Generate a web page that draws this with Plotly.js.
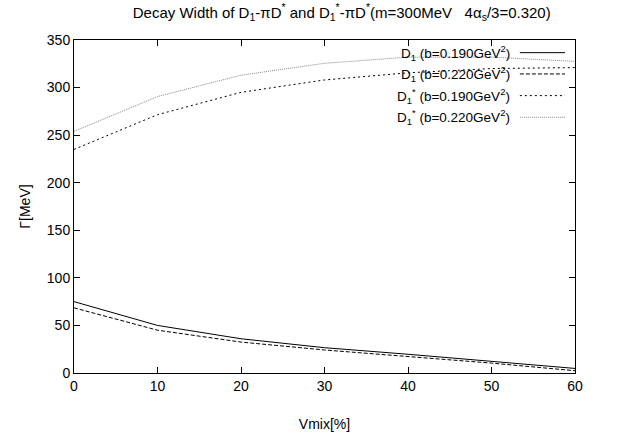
<!DOCTYPE html>
<html>
<head>
<meta charset="utf-8">
<script src="https://cdn.plot.ly/plotly-3.0.1.min.js"></script>
<style>html,body{margin:0;padding:0;background:#fff;}#chart{width:627px;height:446px;}</style>
</head>
<body>
<div id="chart"></div>
<script>
const vmix = [0, 10, 20, 30, 40, 50, 60];
const d1_b190 = [75, 50, 36, 26.6, 19.7, 12.5, 4.8];
const d1_b220 = [68.5, 45, 32.5, 24.2, 17.3, 10.4, 2.4];
const d1s_b190 = [235, 271.5, 295, 308, 315.5, 320, 321];
const d1s_b220 = [254, 290.5, 313, 325.5, 332, 332, 327.5];
const seriesNames = [
  'D<sub>1</sub> (b=0.190GeV<sup>2</sup>)',
  'D<sub>1</sub> (b=0.220GeV<sup>2</sup>)',
  'D<sub>1</sub><sup>*</sup> (b=0.190GeV<sup>2</sup>)',
  'D<sub>1</sub><sup>*</sup> (b=0.220GeV<sup>2</sup>)'
];
const xTicks = [0, 10, 20, 30, 40, 50, 60];
const yTicks = [0, 50, 100, 150, 200, 250, 300, 350];

const styles = [
  {color: '#000', width: 1, dash: 'solid'},
  {color: '#000', width: 1, dash: '4px,2px'},
  {color: '#000', width: 1, dash: '2px,3px'},
  {color: '#888', width: 1, dash: '1px,1px'}
];
const ys = [d1_b190, d1_b220, d1s_b190, d1s_b220];

const traces = ys.map((y, i) => ({
  x: vmix, y: y, type: 'scatter', mode: 'lines',
  name: seriesNames[i], line: styles[i], showlegend: false
}));

const font = {family: 'Liberation Sans, Arial, sans-serif', size: 14, color: '#000'};
const legFont = {family: 'Liberation Sans, Arial, sans-serif', size: 13.5, color: '#000'};
const rowsY = [0.962, 0.898, 0.833, 0.768];
const annotations = seriesNames.map((t, i) => ({
  xref: 'paper', yref: 'paper', x: 0.875, y: rowsY[i],
  xanchor: 'right', yanchor: 'middle', text: t, showarrow: false,
  font: legFont
}));
const shapes = styles.map((s, i) => ({
  type: 'line', xref: 'paper', yref: 'paper',
  x0: 0.89, x1: 0.98, y0: rowsY[i], y1: rowsY[i],
  line: s
}));

const layout = {
  width: 627, height: 446,
  margin: {l: 74, r: 52, t: 40, b: 73},
  paper_bgcolor: '#fff', plot_bgcolor: '#fff',
  font: font,
  showlegend: false,
  title: {
    text: 'Decay Width of D<sub>1</sub>-πD<sup>*</sup> and D<sub>1</sub><sup>*</sup>-πD<sup>*</sup>(m=300MeV&nbsp;&nbsp;&nbsp;4α<sub>s</sub>/3=0.320)',
    font: {family: 'Liberation Sans, Arial, sans-serif', size: 15, color: '#000'},
    x: 0.545, xanchor: 'center', y: 0.972, yanchor: 'middle'
  },
  xaxis: {
    range: [0, 60], tickvals: xTicks, ticktext: xTicks.map(String),
    ticks: 'inside', ticklen: 6, tickcolor: '#000', mirror: 'allticks',
    showline: true, linecolor: '#000', linewidth: 1, showgrid: false, zeroline: false,
    title: {text: 'Vmix[%]', font: font, standoff: 26},
    tickfont: font
  },
  yaxis: {
    range: [0, 350], tickvals: yTicks, ticktext: yTicks.map(String),
    ticks: 'inside', ticklen: 6, tickcolor: '#000', mirror: 'allticks',
    showline: true, linecolor: '#000', linewidth: 1, showgrid: false, zeroline: false,
    title: {text: 'Γ[MeV]', font: font, standoff: 12},
    tickfont: font
  },
  annotations: annotations,
  shapes: shapes
};

Plotly.newPlot('chart', traces, layout, {displayModeBar: false, staticPlot: true});
</script>
</body>
</html>
